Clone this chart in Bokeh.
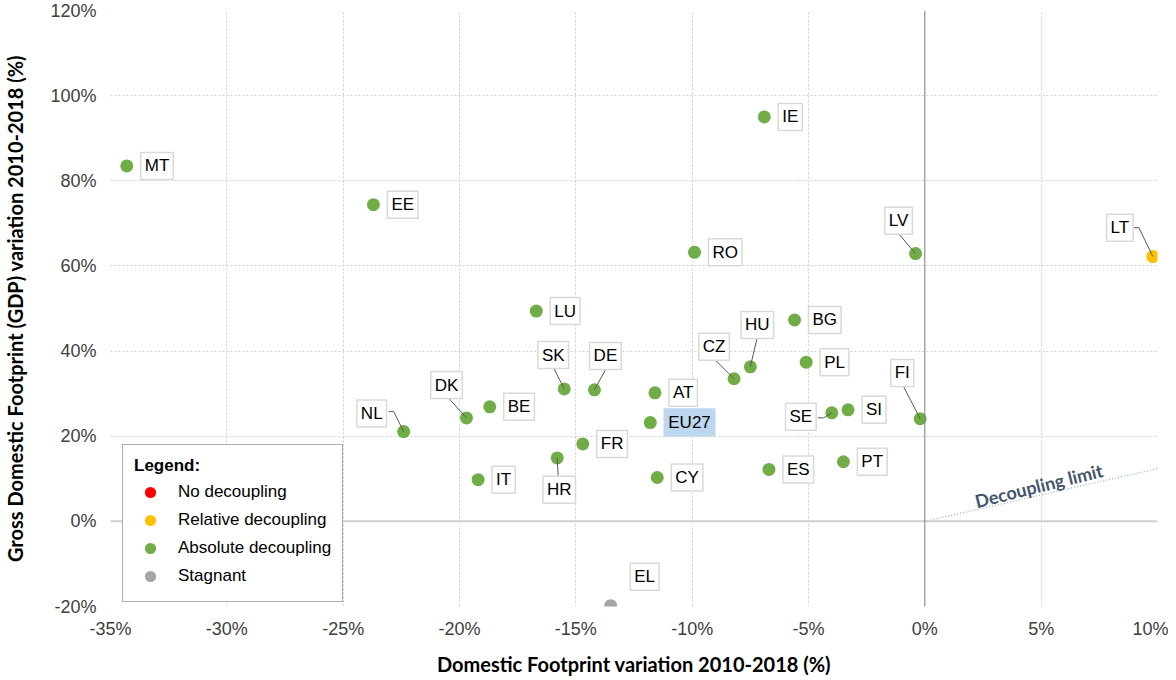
from bokeh.plotting import figure
from bokeh.models import ColumnDataSource, Range1d, FixedTicker, Span, Legend, LegendItem
from bokeh.core.properties import value
from bokeh.embed import file_html
from bokeh.resources import INLINE

# ---------------- data ----------------
countries = ["MT", "EE", "IE", "RO", "LV", "LT", "LU", "BG", "HU", "CZ", "PL", "SK", "DE", "AT",
             "DK", "BE", "NL", "EU27", "FR", "HR", "IT", "CY", "SE", "SI", "FI", "ES", "PT", "EL"]
footprint_var = [-34.3, -23.7, -6.9, -9.9, -0.4, 9.8, -16.7, -5.6, -7.5, -8.2, -5.1, -15.5, -14.2, -11.6,
                 -19.7, -18.7, -22.4, -11.8, -14.7, -15.8, -19.2, -11.5, -4.0, -3.3, -0.2, -6.7, -3.5, -13.5]
gdp_var = [83.5, 74.4, 95.0, 63.2, 62.9, 62.2, 49.4, 47.3, 36.3, 33.5, 37.4, 31.1, 30.9, 30.2,
           24.3, 26.9, 21.1, 23.2, 18.2, 14.9, 9.8, 10.3, 25.5, 26.2, 24.1, 12.2, 14.0, -19.8]
status = ["Absolute decoupling"] * len(countries)
status[countries.index("LT")] = "Relative decoupling"
status[countries.index("EL")] = "Stagnant"

categories = ["No decoupling", "Relative decoupling", "Absolute decoupling", "Stagnant"]
cat_colors = ["#ff0000", "#ffc000", "#70ad47", "#a5a5a5"]

limit_x = [0, 10]
limit_y = [0, 12.4]

x_ticks = [-35, -30, -25, -20, -15, -10, -5, 0, 5, 10]
x_tick_labels = ["-35%", "-30%", "-25%", "-20%", "-15%", "-10%", "-5%", "0%", "5%", "10%"]
y_ticks = [-20, 0, 20, 40, 60, 80, 100, 120]
y_tick_labels = ["-20%", "0%", "20%", "40%", "60%", "80%", "100%", "120%"]

# ---------------- layout (label placement in screen pixels) ----------------
W, H = 1168, 678
BL, BR, BT, BB = 108, 11, 10, 70
FW, FH = W - BL - BR, H - BT - BB
X0, X1, Y0, Y1 = -35, 10, -20, 120
PXX = (X1 - X0) / FW
PXY = (Y1 - Y0) / FH

# label: (align, dx, dy) ; dy positive = down on screen
label_pos = {
    "SK": ("center", -11, -34), "DE": ("center", 11, -34), "DK": ("center", -20, -33),
    "NL": ("center", -32, -18), "CZ": ("center", -20, -32), "HU": ("center", 7, -42),
    "LV": ("center", -17, -33), "LT": ("center", -33, -29), "FI": ("center", -18, -46),
    "SE": ("center", -31, 4), "HR": ("center", 2, 32), "EL": ("center", 34, -29),
}
leaders = {
    "SK": [(-10, -20)], "DE": [(11, -20)], "DK": [(-19, -21)],
    "NL": [(-15, -20), (-10, -20)], "CZ": [(-20, -20)], "HU": [(7, -30)],
    "LV": [(-17, -20)], "LT": [(-19, -29), (-14, -29)], "FI": [(-17, -33)],
    "SE": [(-14, 5), (-8, 5)], "HR": [(1, 20)],
}

lx, ly, al, bg, bd = [], [], [], [], []
for c, x, y in zip(countries, footprint_var, gdp_var):
    a, dx, dy = label_pos.get(c, ("left", 14, 0))
    lx.append(x + dx * PXX)
    ly.append(y - dy * PXY)
    al.append(a)
    if c == "EU27":
        bg.append("#bdd7ee"); bd.append("#bdd7ee")
    else:
        bg.append("white"); bd.append("#d9d9d9")

lead_xs, lead_ys = [], []
for c, x, y in zip(countries, footprint_var, gdp_var):
    if c in leaders:
        pts = leaders[c]
        lead_xs.append([x + px * PXX for px, py in pts] + [x])
        lead_ys.append([y - py * PXY for px, py in pts] + [y])

# ---------------- figure ----------------
p = figure(width=W, height=H, output_backend="svg", toolbar_location=None,
           x_range=Range1d(X0, X1), y_range=Range1d(Y0, Y1),
           min_border_left=BL, min_border_right=BR, min_border_top=BT, min_border_bottom=BB)
p.outline_line_color = None
p.background_fill_color = "white"

for g in (p.xgrid, p.ygrid):
    g.grid_line_color = "#d0d0d0"
    g.grid_line_dash = "2 2"
    g.grid_line_width = 1
p.xgrid.ticker = FixedTicker(ticks=x_ticks)
p.ygrid.ticker = FixedTicker(ticks=y_ticks)

p.xaxis.ticker = FixedTicker(ticks=x_ticks)
p.yaxis.ticker = FixedTicker(ticks=y_ticks)
p.xaxis.major_label_overrides = dict(zip(x_ticks, x_tick_labels))
p.yaxis.major_label_overrides = dict(zip(y_ticks, y_tick_labels))
for ax in (p.xaxis, p.yaxis):
    ax.axis_line_color = None
    ax.major_tick_line_color = None
    ax.minor_tick_line_color = None
    ax.major_tick_out = 0
    ax.major_tick_in = 0
    ax.minor_tick_out = 0
    ax.minor_tick_in = 0
    ax.major_label_text_font = "Liberation Sans"
    ax.major_label_text_font_size = "18px"
    ax.major_label_text_color = "#404040"
    ax.axis_label_text_font = "Lato"
    ax.axis_label_text_font_style = "bold"
    ax.axis_label_text_font_size = "20px"
    ax.axis_label_text_color = "#000000"
p.xaxis.axis_label = "Domestic Footprint variation 2010-2018 (%)"
p.yaxis.axis_label = "Gross Domestic Footprint (GDP) variation 2010-2018 (%)"
p.yaxis.major_label_standoff = 14
p.xaxis.major_label_standoff = 12
p.yaxis.axis_label_standoff = 20
p.xaxis.axis_label_standoff = 10

p.add_layout(Span(location=0, dimension="width", line_color="#d0d0d0", line_width=2))
p.add_layout(Span(location=0, dimension="height", line_color="#808080", line_width=1))

# decoupling limit
p.line(limit_x, limit_y, line_color="#8faadc", line_dash="1 2", line_width=1.2)
p.text(x=[4.9], y=[8.4], text=["Decoupling limit"], angle=0.245,
       text_font=value("Lato"), text_font_style="bold", text_font_size="18px",
       text_color="#44546a", text_align="center", text_baseline="middle")

# points
renderers = {}
for cat, col in zip(categories, cat_colors):
    idx = [i for i, s in enumerate(status) if s == cat]
    xs = [footprint_var[i] for i in idx]
    ys = [gdp_var[i] for i in idx]
    if not xs:  # keep a legend swatch for categories with no country
        xs, ys = [float("nan")], [float("nan")]
    src = ColumnDataSource(dict(x=xs, y=ys))
    renderers[cat] = p.scatter("x", "y", source=src, size=13, fill_color=col, line_color=None)

# leader lines
p.multi_line(lead_xs, lead_ys, line_color="#595959", line_width=1)

# labels
lab = ColumnDataSource(dict(x=lx, y=ly, t=countries, al=al, bg=bg, bd=bd))
p.text("x", "y", text="t", source=lab, text_align="al", text_baseline="middle",
       text_font=value("Liberation Sans"), text_font_size="17px", text_color="#000000",
       background_fill_color="bg", border_line_color="bd", border_line_width=1.5, padding=4)

legend = Legend(items=[LegendItem(label=c, renderers=[renderers[c]]) for c in categories],
                location=(12, 4), title="Legend:")
legend.title_text_font = "Liberation Sans"
legend.title_text_font_style = "bold"
legend.title_text_font_size = "17px"
legend.title_text_color = "#000000"
legend.title_standoff = 2
legend.label_text_font = "Liberation Sans"
legend.label_text_font_size = "17px"
legend.label_text_color = "#000000"
legend.border_line_color = "#595959"
legend.border_line_width = 1.5
legend.background_fill_color = "white"
legend.background_fill_alpha = 1
legend.padding = 11
legend.spacing = 0
legend.glyph_width = 32
legend.glyph_height = 28
legend.label_height = 28
legend.label_standoff = 12
legend.margin = 0
p.add_layout(legend)

open("out.html", "w").write(file_html(p, INLINE))
